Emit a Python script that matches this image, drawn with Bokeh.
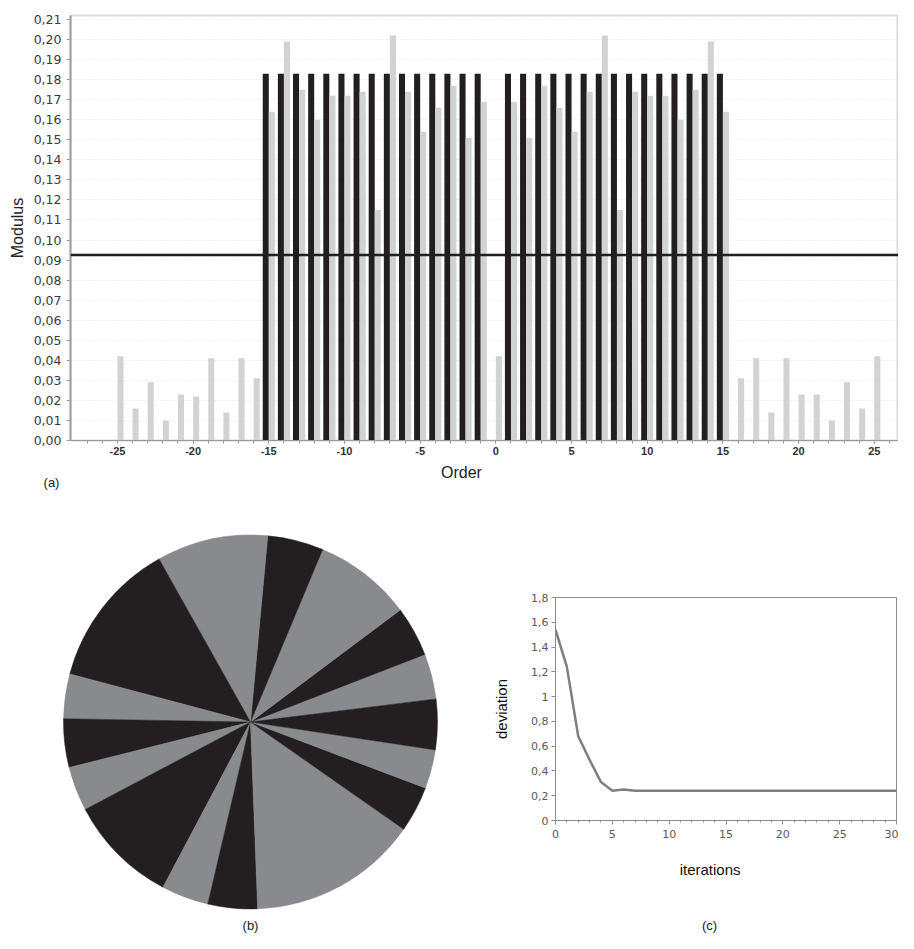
import math
from bokeh.plotting import figure
from bokeh.layouts import column, row
from bokeh.models import (ColumnDataSource, Span, Label, FixedTicker, SingleIntervalTicker,
                          CustomJSTickFormatter)
from bokeh.transform import dodge
from bokeh.embed import file_html
from bokeh.resources import INLINE

# ---------------- data: panel (a) ----------------
orders = list(range(-25, 26))
gray_modulus = [0.042, 0.016, 0.029, 0.010, 0.023, 0.022, 0.041, 0.014, 0.041, 0.031,
                0.164, 0.199, 0.175, 0.160, 0.172, 0.172, 0.174, 0.115, 0.202, 0.174,
                0.154, 0.166, 0.177, 0.151, 0.169,
                0.042,
                0.169, 0.151, 0.177, 0.166, 0.154, 0.174, 0.202, 0.115, 0.174, 0.172,
                0.172, 0.160, 0.175, 0.199, 0.164,
                0.031, 0.041, 0.014, 0.041, 0.023, 0.023, 0.010, 0.029, 0.016, 0.042]
black_orders = [-15, -14, -13, -12, -11, -10, -9, -8, -7, -6, -5, -4, -3, -2, -1,
                1, 2, 3, 4, 5, 6, 7, 8, 9, 10, 11, 12, 13, 14, 15]
black_modulus = [0.183, 0.183, 0.183, 0.183, 0.183, 0.183, 0.183, 0.183, 0.183, 0.183,
                 0.183, 0.183, 0.183, 0.183, 0.183, 0.183, 0.183, 0.183, 0.183, 0.183,
                 0.183, 0.183, 0.183, 0.183, 0.183, 0.183, 0.183, 0.183, 0.183, 0.183]
threshold = 0.0925
x_tick_labels = [-25, -20, -15, -10, -5, 0, 5, 10, 15, 20, 25]

# ---------------- data: panel (b) ----------------
# sector boundary angles (degrees, counter-clockwise from +x), colours alternate
pie_boundaries = [7.1, 21.2, 36.8, 67.3, 84.7, 119.3, 165.1, 179.0,
                  194.1, 207.9, 242.1, 256.8, 272.2, 325.0, 339.3, 351.4]
pie_kinds = ["gray", "black", "gray", "black", "gray", "black", "gray", "black",
             "gray", "black", "gray", "black", "gray", "black", "gray", "black"]

# ---------------- data: panel (c) ----------------
iterations = list(range(0, 31))
deviation = [1.54, 1.24, 0.68, 0.49, 0.31, 0.24, 0.25, 0.24, 0.24, 0.24, 0.24,
             0.24, 0.24, 0.24, 0.24, 0.24, 0.24, 0.24, 0.24, 0.24, 0.24,
             0.24, 0.24, 0.24, 0.24, 0.24, 0.24, 0.24, 0.24, 0.24, 0.24]
c_x_ticks = [0, 5, 10, 15, 20, 25, 30]

BLACK = "#231f20"
LGRAY = "#d1d2d4"
PGRAY = "#898a8d"
ARIAL = "Liberation Sans"

# ================= panel (a) =================
pa = figure(width=898, height=462, x_range=(-28.1, 26.6), y_range=(0, 0.212),
            output_backend="svg", toolbar_location=None,
            min_border_left=70, min_border_right=0, min_border_top=15, min_border_bottom=22)
pa.background_fill_color = "white"
pa.border_fill_color = "white"
pa.outline_line_color = "#dcdcdc"
pa.outline_line_width = 2

src_g = ColumnDataSource(dict(order=orders, val=gray_modulus))
src_b = ColumnDataSource(dict(order=black_orders, val=black_modulus))
pa.vbar(x=dodge("order", -0.2, range=pa.x_range), top="val", width=0.4, bottom=0,
        source=src_b, fill_color=BLACK, line_color=None)
pa.vbar(x=dodge("order", 0.2, range=pa.x_range), top="val", width=0.4, bottom=0,
        source=src_g, fill_color=LGRAY, line_color=None)
pa.add_layout(Span(location=threshold, dimension="width", line_color=BLACK, line_width=2.5))

pa.xgrid.visible = False
pa.ygrid.ticker = SingleIntervalTicker(interval=0.01)
pa.ygrid.grid_line_color = "#dedede"
pa.ygrid.grid_line_dash = "1 2"
pa.ygrid.grid_line_alpha = 0.8

xa = pa.xaxis[0]
xa.ticker = FixedTicker(ticks=x_tick_labels, minor_ticks=list(range(-27, 27)))
xa.formatter = CustomJSTickFormatter(code="return tick.toString();")
xa.axis_line_color = "#9a9a9a"
xa.major_tick_line_color = "#9a9a9a"
xa.minor_tick_line_color = "#9a9a9a"
xa.major_tick_in = 0
xa.major_tick_out = 3
xa.minor_tick_in = 0
xa.minor_tick_out = 3
xa.major_label_standoff = 3
xa.major_label_text_font = ARIAL
xa.major_label_text_font_style = "bold"
xa.major_label_text_font_size = "11px"
xa.major_label_text_color = "#333333"

ya = pa.yaxis[0]
ya.ticker = SingleIntervalTicker(interval=0.01)
ya.formatter = CustomJSTickFormatter(code="return tick.toFixed(2).replace('.', ',');")
ya.axis_line_color = "#a0a0a0"
ya.axis_line_width = 2
ya.major_tick_line_color = "#a0a0a0"
ya.major_tick_in = 0
ya.major_tick_out = 4
ya.minor_tick_line_color = None
ya.major_label_standoff = 5
ya.major_label_text_font = "DejaVu Sans"
ya.major_label_text_font_size = "12.5px"
ya.major_label_text_color = "#3a3a3a"
ya.axis_label = "Modulus"
ya.axis_label_standoff = 5
ya.axis_label_text_font = ARIAL
ya.axis_label_text_font_size = "16px"
ya.axis_label_text_font_style = "normal"
ya.axis_label_text_color = "#222222"

# ================= panel (b) (also carries the (a) captions) =================
pb = figure(width=490, height=471, x_range=(0, 490), y_range=(0, 471),
            output_backend="svg", toolbar_location=None,
            min_border=0, min_border_left=0, min_border_right=0,
            min_border_top=0, min_border_bottom=0)
pb.axis.visible = False
pb.grid.visible = False
pb.outline_line_color = None
pb.background_fill_color = "white"
pb.border_fill_color = "white"

starts = [math.radians(a) for a in pie_boundaries]
ends = [math.radians(a) for a in pie_boundaries[1:] + [pie_boundaries[0] + 360]]
colors = [PGRAY if k == "gray" else BLACK for k in pie_kinds]
src_p = ColumnDataSource(dict(start=starts, end=ends, color=colors))
pb.wedge(x=250, y=211.5, radius=187, start_angle="start", end_angle="end",
         fill_color="color", line_color="color", line_width=0.5, source=src_p)
pb.add_layout(Label(x=250, y=8, text="(b)", text_align="center", text_baseline="middle",
                    text_font=ARIAL, text_font_size="13px", text_color="#222222"))
pb.add_layout(Label(x=51, y=451, text="(a)", text_align="center", text_baseline="middle",
                    text_font=ARIAL, text_font_size="13px", text_color="#222222"))
pb.add_layout(Label(x=461, y=461, text="Order", text_align="center", text_baseline="middle",
                    text_font=ARIAL, text_font_size="16px", text_color="#222222"))

# ================= panel (c) =================
pc = figure(width=408, height=388, x_range=(0, 30), y_range=(0, 1.8),
            output_backend="svg", toolbar_location=None,
            min_border_left=63, min_border_right=2, min_border_top=135, min_border_bottom=30)
pc.background_fill_color = "white"
pc.border_fill_color = "white"
pc.outline_line_color = "#8c8c8c"
pc.grid.visible = False
pc.line(iterations, deviation, line_color="#7f7f7f", line_width=2.5)

cx = pc.xaxis[0]
cx.ticker = FixedTicker(ticks=c_x_ticks, minor_ticks=iterations)
cx.axis_line_color = "#8c8c8c"
cx.major_tick_line_color = "#8c8c8c"
cx.minor_tick_line_color = "#8c8c8c"
cx.major_tick_in = 0
cx.major_tick_out = 4
cx.minor_tick_in = 0
cx.minor_tick_out = 2
cx.major_label_standoff = 5
cx.major_label_text_font = "DejaVu Sans"
cx.major_label_text_font_size = "11px"
cx.major_label_text_color = "#595959"

cy = pc.yaxis[0]
cy.ticker = SingleIntervalTicker(interval=0.2)
cy.formatter = CustomJSTickFormatter(
    code="var s = (Math.round(tick * 10) / 10).toString(); return s.replace('.', ',');")
cy.axis_line_color = "#8c8c8c"
cy.major_tick_line_color = "#8c8c8c"
cy.minor_tick_line_color = None
cy.major_tick_in = 0
cy.major_tick_out = 4
cy.major_label_standoff = 3
cy.major_label_text_font = "DejaVu Sans"
cy.major_label_text_font_size = "11px"
cy.major_label_text_color = "#595959"
cy.axis_label = "deviation"
cy.axis_label_standoff = 18
cy.axis_label_text_font = ARIAL
cy.axis_label_text_font_size = "15px"
cy.axis_label_text_font_style = "normal"
cy.axis_label_text_color = "#111111"

# caption strip under (c), same horizontal frame as (c)
pd = figure(width=408, height=83, x_range=(0, 30), y_range=(0, 83),
            output_backend="svg", toolbar_location=None,
            min_border_left=63, min_border_right=2, min_border_top=0, min_border_bottom=0)
pd.axis.visible = False
pd.grid.visible = False
pd.outline_line_color = None
pd.background_fill_color = "white"
pd.border_fill_color = "white"
pd.add_layout(Label(x=13.6, y=64, text="iterations", text_align="center",
                    text_baseline="middle", text_font=ARIAL, text_font_size="15px",
                    text_color="#111111"))
pd.add_layout(Label(x=13.55, y=8, text="(c)", text_align="center",
                    text_baseline="middle", text_font=ARIAL, text_font_size="13px",
                    text_color="#222222"))

layout = column(pa, row(column(pb), column(pc, pd)))
open("out.html", "w").write(file_html(layout, INLINE))
